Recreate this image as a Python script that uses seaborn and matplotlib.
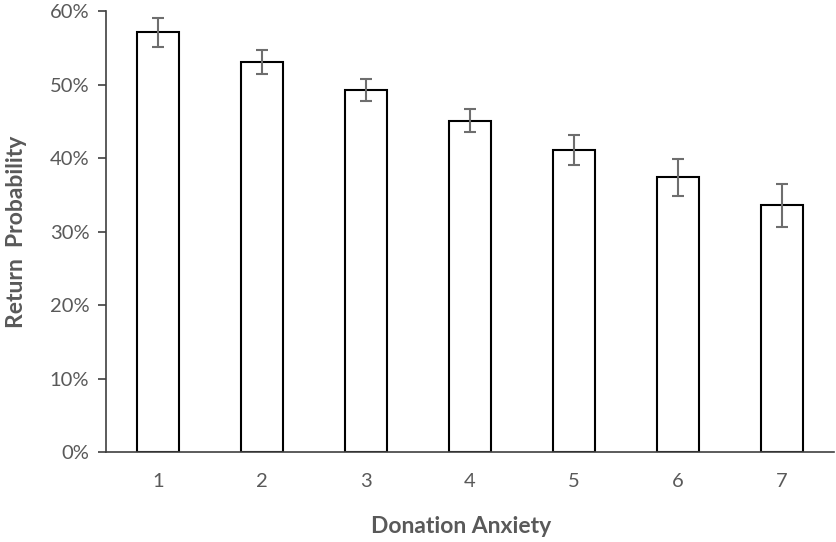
import numpy as np
import pandas as pd
import matplotlib
matplotlib.use("Agg")
import matplotlib.pyplot as plt
import seaborn as sns
from matplotlib.ticker import PercentFormatter

# ---- data ----
anxiety_levels = ["1", "2", "3", "4", "5", "6", "7"]
return_prob = [57.1, 53.1, 49.2, 45.1, 41.1, 37.4, 33.6]
err_half = [2.0, 1.6, 1.5, 1.6, 2.0, 2.5, 2.9]
y_ticks = [0, 10, 20, 30, 40, 50, 60]

df = pd.DataFrame({"anxiety": anxiety_levels, "prob": return_prob})

sns.set_theme(style="white")
plt.rcParams["font.family"] = ["Lato", "DejaVu Sans"]

text_col = "#595959"

fig = plt.figure(figsize=(8.36, 5.42), dpi=100)
ax = fig.add_axes([0.1268, 0.1655, 0.8708, 0.8142])

sns.barplot(data=df, x="anxiety", y="prob", ax=ax, color="white",
            edgecolor="black", linewidth=1.5, width=0.40, errorbar=None)
ax.errorbar(np.arange(len(anxiety_levels)), return_prob, yerr=err_half,
            fmt="none", ecolor="#6e6e6e", elinewidth=1.5, capsize=4,
            capthick=1.5, zorder=5)

ax.set_xlim(-0.5, len(anxiety_levels) - 0.5)
ax.set_ylim(0, 60)
ax.set_yticks(y_ticks)
ax.yaxis.set_major_formatter(PercentFormatter(decimals=0))

for side in ["top", "right"]:
    ax.spines[side].set_visible(False)
for side in ["left", "bottom"]:
    ax.spines[side].set_color("#404040")
    ax.spines[side].set_linewidth(1.2)

ax.tick_params(axis="y", left=True, length=6, width=1.2, color="#404040",
               labelsize=14.5, labelcolor=text_col, pad=6)
ax.tick_params(axis="x", bottom=False, labelsize=14.5, labelcolor=text_col, pad=9)

ax.set_xlabel("Donation Anxiety", fontsize=16.5, fontweight="bold",
              color=text_col)
ax.xaxis.set_label_coords(0.488, -0.145)
ax.set_ylabel("Return  Probability", fontsize=16.5, fontweight="bold",
              color=text_col, labelpad=16)

fig.savefig("out.png", dpi=100)
